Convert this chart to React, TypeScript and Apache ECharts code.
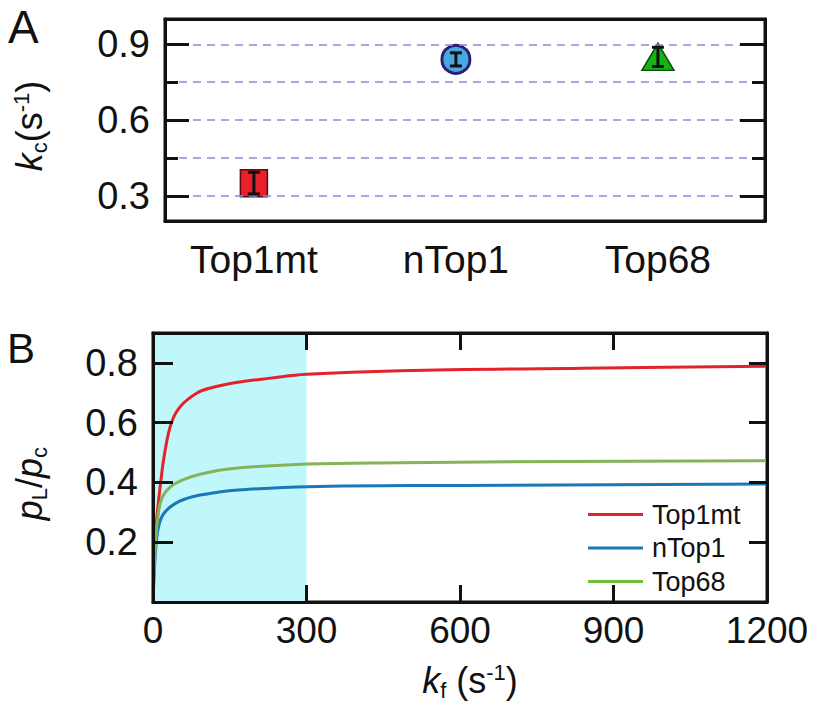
import React, { useEffect, useRef } from "react";
import * as echarts from "echarts";

// ---------- Panel A data ----------
const categories = ["Top1mt", "nTop1", "Top68"];
const kcValues = [0.35, 0.84, 0.85];
const kcErrors = [0.043, 0.026, 0.038];
const kcMajorTicks = [0.3, 0.6, 0.9];
const kcMinorTicks = [0.45, 0.75];
const kcGridLines = [0.3, 0.45, 0.6, 0.75, 0.9];

// ---------- Panel B data ----------
const seriesNames = ["Top1mt", "nTop1", "Top68"];
const top1mtCurve: [number, number][] = [
  [0, 0], [1.5, 0.1], [3, 0.2], [8.5, 0.3], [15, 0.4], [23, 0.5], [36, 0.6],
  [54, 0.655], [86, 0.699], [112, 0.716], [166, 0.735], [230, 0.749], [300, 0.762],
  [484, 0.774], [841, 0.782], [1200, 0.789],
];
const nTop1Curve: [number, number][] = [
  [0, 0], [2.5, 0.1], [6.5, 0.2], [11.7, 0.258], [21.5, 0.297], [44, 0.33],
  [77, 0.352], [129, 0.368], [166, 0.375], [302, 0.386], [600, 0.39], [1200, 0.395],
];
const top68Curve: [number, number][] = [
  [0, 0], [2, 0.1], [5.2, 0.2], [10.4, 0.295], [18, 0.35], [34.5, 0.386],
  [57, 0.408], [96, 0.429], [152, 0.446], [302, 0.462], [484, 0.466], [800, 0.47],
  [1200, 0.473],
];
const shadedRange = [0, 300];
const kfTicks = { min: 0, max: 1200, interval: 300 };
const ratioTicks = { min: 0, max: 0.9, interval: 0.2 };

const FONT = "Liberation Sans, Arial, Helvetica, sans-serif";
const BLACK = "#111";

export default function App() {
  const ref = useRef<HTMLDivElement>(null);

  useEffect(() => {
    if (!ref.current) return;
    const chart = echarts.init(ref.current, undefined, { renderer: "svg" });

    const frameLine = { show: true, onZero: false, lineStyle: { color: BLACK, width: 3 } };
    const noLabel = { show: false };
    const noSplit = { show: false };
    const tick = (length: number, customValues?: number[]) => ({
      show: true, inside: true, length,
      ...(customValues ? { customValues } : {}),
      lineStyle: { color: BLACK, width: 3 },
    });

    const markerStyles = [
      { symbol: "rect", symbolSize: 27, itemStyle: { color: "#e8202a", borderColor: "#5a0c0c", borderWidth: 1.5, opacity: 1 } },
      { symbol: "circle", symbolSize: 28, itemStyle: { color: "#4aa8e0", borderColor: "#2b2070", borderWidth: 3, opacity: 1 } },
      { symbol: "triangle", symbolSize: [32, 27], itemStyle: { color: "#14b414", borderColor: "#0b5010", borderWidth: 1.5, opacity: 1 } },
    ];

    const colorsB = ["#e4222b", "#1b78b8", "#86b35a"];
    const legendColors = ["#e4222b", "#1b78b8", "#6dbf3a"];
    const curves = [top1mtCurve, nTop1Curve, top68Curve];

    const subRich = {
      k: { fontSize: 36, fontStyle: "italic", fontFamily: FONT, color: BLACK, lineHeight: 40 },
      p: { fontSize: 36, fontStyle: "italic", fontFamily: FONT, color: BLACK, lineHeight: 40 },
      n: { fontSize: 36, fontFamily: FONT, color: BLACK, lineHeight: 40 },
      sub: { fontSize: 22, fontFamily: FONT, color: BLACK, lineHeight: 22, padding: [20, 0, 0, 0] },
      sup: { fontSize: 22, fontFamily: FONT, color: BLACK, lineHeight: 22, padding: [0, 0, 16, 0] },
    };

    const option: any = {
      animation: false,
      textStyle: { fontFamily: FONT },
      grid: [
        { left: 155, top: 19, width: 610, height: 202, show: true, borderColor: BLACK, borderWidth: 3, backgroundColor: "transparent" },
        { left: 152, top: 333, width: 615, height: 269, show: true, borderColor: BLACK, borderWidth: 3, backgroundColor: "transparent" },
      ],
      graphic: [
        { type: "text", left: 8, top: 4, style: { text: "A", fontSize: 46, fontFamily: FONT, fill: BLACK } },
        { type: "text", left: 7, top: 327, style: { text: "B", fontSize: 42, fontFamily: FONT, fill: BLACK } },
      ],
      xAxis: [
        {
          gridIndex: 0, type: "value", position: "bottom", min: 0.56, max: 3.53, z: 10,
          axisLine: frameLine, axisTick: { show: false }, splitLine: noSplit,
          axisLabel: {
            customValues: [1, 2, 3],
            formatter: (v: number) => categories[Math.round(v) - 1] ?? "",
            fontSize: 39, color: BLACK, margin: 19, fontFamily: FONT,
          },
        },
        {
          gridIndex: 0, type: "value", position: "top", min: 0.56, max: 3.53, z: 10,
          axisLine: frameLine, axisTick: { show: false }, axisLabel: noLabel, splitLine: noSplit,
        },
        {
          gridIndex: 1, type: "value", position: "bottom", ...kfTicks, z: 10,
          axisLine: frameLine,
          axisTick: tick(17),
          axisLabel: { fontSize: 37, color: BLACK, margin: 10, fontFamily: FONT, formatter: (v: number) => String(v) },
          splitLine: noSplit,
          name: "{k|k}{sub|f}{n| (s}{sup|-1}{n|)}",
          nameLocation: "middle", nameGap: 58,
          nameTextStyle: { padding: [0, 0, 0, 20], rich: subRich },
        },
        {
          gridIndex: 1, type: "value", position: "top", ...kfTicks, z: 10,
          axisLine: frameLine,
          axisTick: tick(17),
          axisLabel: noLabel, splitLine: noSplit,
        },
      ],
      yAxis: [
        {
          gridIndex: 0, type: "value", position: "left", min: 0.2, max: 1.0, z: 10,
          axisLine: frameLine,
          axisTick: tick(24, kcMajorTicks),
          axisLabel: {
            customValues: kcMajorTicks, formatter: (v: number) => v.toFixed(1),
            fontSize: 38, color: BLACK, margin: 15, fontFamily: FONT,
          },
          splitLine: noSplit,
          name: "{k|k}{sub|c}{n|(s}{sup|-1}{n|)}",
          nameLocation: "middle", nameGap: 116, nameRotate: 90,
          nameTextStyle: { padding: [0, 12, 0, 0], rich: subRich },
        },
        {
          gridIndex: 0, type: "value", position: "left", min: 0.2, max: 1.0, z: 10,
          axisLine: { show: false, onZero: false },
          axisTick: tick(13, kcMinorTicks),
          axisLabel: noLabel, splitLine: noSplit,
        },
        {
          gridIndex: 0, type: "value", position: "right", min: 0.2, max: 1.0, z: 10,
          axisLine: frameLine,
          axisTick: tick(25, kcMajorTicks),
          axisLabel: noLabel, splitLine: noSplit,
        },
        {
          gridIndex: 0, type: "value", position: "right", min: 0.2, max: 1.0, z: 10,
          axisLine: { show: false, onZero: false },
          axisTick: tick(13, kcMinorTicks),
          axisLabel: noLabel, splitLine: noSplit,
        },
        {
          gridIndex: 1, type: "value", position: "left", ...ratioTicks, z: 10,
          axisLine: frameLine,
          axisTick: tick(20),
          axisLabel: {
            formatter: (v: number) => (v <= 0 || v > 0.85 ? "" : v.toFixed(1)),
            fontSize: 38, color: BLACK, margin: 15, fontFamily: FONT,
          },
          splitLine: noSplit,
          name: "{p|p}{sub|L}{n|/}{p|p}{sub|c}",
          nameLocation: "middle", nameGap: 104, nameRotate: 90,
          nameTextStyle: { padding: [0, 32, 0, 0], rich: subRich },
        },
        {
          gridIndex: 1, type: "value", position: "right", ...ratioTicks, z: 10,
          axisLine: frameLine,
          axisTick: tick(18),
          axisLabel: noLabel, splitLine: noSplit,
        },
      ],
      legend: {
        orient: "vertical", left: 583, top: 496,
        icon: "rect", itemWidth: 55, itemHeight: 3, itemGap: 6.5,
        textStyle: { fontSize: 27, color: BLACK, fontFamily: FONT, lineHeight: 27, padding: [0, 0, 0, 4] },
        data: seriesNames.map((n, i) => ({ name: n, itemStyle: { color: legendColors[i] } })),
      },
      series: [
        {
          type: "scatter", xAxisIndex: 0, yAxisIndex: 0, z: 3,
          data: categories.map((c, i) => ({
            name: c, value: [i + 1, kcValues[i]], ...markerStyles[i],
          })),
          markLine: {
            silent: true, symbol: ["none", "none"], label: { show: false },
            lineStyle: { color: "#8a8ae0", width: 1.5, type: [8, 6] },
            data: kcGridLines.map((v) => ({ yAxis: v })),
          },
        },
        {
          type: "custom", xAxisIndex: 0, yAxisIndex: 0, z: 5,
          data: categories.map((c, i) => [i + 1, kcValues[i] - kcErrors[i], kcValues[i] + kcErrors[i]]),
          encode: { x: 0, y: [1, 2] },
          renderItem: (params: any, api: any) => {
            const x = api.value(0);
            const p1 = api.coord([x, api.value(1)]);
            const p2 = api.coord([x, api.value(2)]);
            const hw = 6;
            const style = { stroke: BLACK, lineWidth: 3 };
            return {
              type: "group",
              children: [
                { type: "line", shape: { x1: p1[0], y1: p1[1], x2: p2[0], y2: p2[1] }, style },
                { type: "line", shape: { x1: p1[0] - hw, y1: p1[1], x2: p1[0] + hw, y2: p1[1] }, style },
                { type: "line", shape: { x1: p2[0] - hw, y1: p2[1], x2: p2[0] + hw, y2: p2[1] }, style },
              ],
            };
          },
        },
        {
          type: "line", name: "shade", xAxisIndex: 2, yAxisIndex: 4, z: 1, data: [],
          markArea: {
            silent: true,
            itemStyle: { color: "#bff7fb", opacity: 1 },
            data: [[{ xAxis: shadedRange[0] }, { xAxis: shadedRange[1] }]],
          },
        },
        ...seriesNames.map((n, i) => ({
          type: "line", name: n, xAxisIndex: 2, yAxisIndex: 4, z: 3,
          data: curves[i], showSymbol: false, smooth: 0.4,
          lineStyle: { color: colorsB[i], width: 3 }, itemStyle: { color: colorsB[i] },
        })),
      ],
    };

    chart.setOption(option);
    return () => chart.dispose();
  }, []);

  return (
    <div
      ref={ref}
      style={{ position: "fixed", left: 0, top: 0, width: 820, height: 716, background: "#fff" }}
    />
  );
}
